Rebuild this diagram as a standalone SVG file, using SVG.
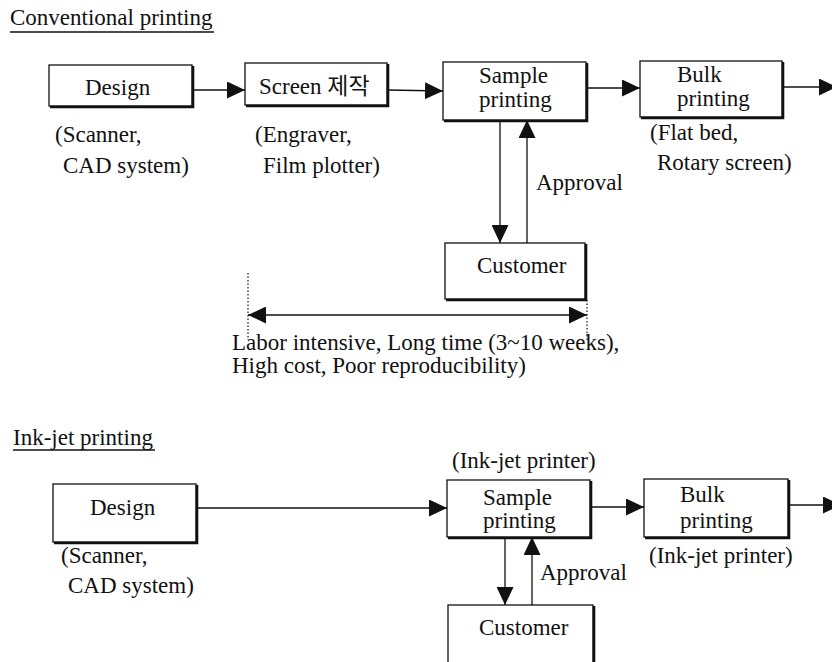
<svg xmlns="http://www.w3.org/2000/svg" width="832" height="662" viewBox="0 0 832 662">
<style>
text{font-family:"Liberation Serif","Noto Sans CJK KR",serif;font-size:23px;fill:#111}
.box{fill:#fff;stroke:#111;stroke-width:1.3}
.sh{fill:none;stroke:#111;stroke-width:2.6}
.ln{fill:none;stroke:#111;stroke-width:1.3}
.dot{fill:none;stroke:#111;stroke-width:1.2;stroke-dasharray:1.5 2}
.ul{stroke:#111;stroke-width:1.3}
</style>
<defs>
<marker id="ah" markerUnits="userSpaceOnUse" markerWidth="18" markerHeight="17" refX="18" refY="8.5" orient="auto-start-reverse">
<path d="M0,0 L18,8.5 L0,17 z" fill="#111"/>
</marker>
</defs>
<rect width="832" height="662" fill="#fff"/>

<g id="title-conventional">
<text x="10" y="25">Conventional printing</text>
<line class="ul" x1="10" y1="32" x2="214" y2="32"/>
</g>

<g id="connectors">
<line class="ln" x1="193" y1="90" x2="245" y2="90" marker-end="url(#ah)"/>
<line class="ln" x1="387" y1="90" x2="443" y2="91" marker-end="url(#ah)"/>
<line class="ln" x1="586" y1="88" x2="640" y2="88" marker-end="url(#ah)"/>
<line class="ln" x1="783" y1="87" x2="837" y2="87" marker-end="url(#ah)"/>
<line class="ln" x1="500" y1="120" x2="500" y2="243" marker-end="url(#ah)"/>
<line class="ln" x1="527" y1="243" x2="527" y2="120" marker-end="url(#ah)"/>
<line class="ln" x1="248" y1="315" x2="587" y2="315" marker-start="url(#ah)" marker-end="url(#ah)"/>
<line class="dot" x1="248" y1="273" x2="248" y2="340"/>
<line class="dot" x1="587" y1="300" x2="587" y2="340"/>
<line class="ln" x1="196" y1="508" x2="447" y2="508" marker-end="url(#ah)"/>
<line class="ln" x1="590" y1="507" x2="644" y2="507" marker-end="url(#ah)"/>
<line class="ln" x1="788" y1="505" x2="841" y2="505" marker-end="url(#ah)"/>
<line class="ln" x1="505" y1="537" x2="505" y2="605" marker-end="url(#ah)"/>
<line class="ln" x1="532" y1="605" x2="532" y2="537" marker-end="url(#ah)"/>
</g>

<g id="design1">
<rect class="box" x="49" y="65" width="143" height="41"/>
<path class="sh" d="M193,66 V107 H50"/>
<text x="85" y="95">Design</text>
<text x="55" y="142">(Scanner,</text>
<text x="63" y="173">CAD system)</text>
</g>

<g id="screen">
<rect class="box" x="245" y="63" width="142" height="42"/>
<path class="sh" d="M388,64 V106 H246"/>
<text x="259" y="94">Screen 제작</text>
<text x="255" y="142">(Engraver,</text>
<text x="263" y="173">Film plotter)</text>
</g>

<g id="sample1">
<rect class="box" x="443" y="62" width="143" height="58"/>
<path class="sh" d="M587,63 V121 H444"/>
<text x="479" y="83">Sample</text>
<text x="479" y="107">printing</text>
</g>

<g id="bulk1">
<rect class="box" x="640" y="61" width="142" height="56"/>
<path class="sh" d="M783,62 V118 H641"/>
<text x="677" y="82">Bulk</text>
<text x="677" y="106">printing</text>
<text x="650" y="140">(Flat bed,</text>
<text x="657" y="170">Rotary screen)</text>
</g>

<g id="customer1">
<rect class="box" x="445" y="243" width="140" height="56"/>
<path class="sh" d="M586,244 V300 H446"/>
<text x="477" y="273">Customer</text>
</g>

<g id="labels1">
<text x="536" y="190">Approval</text>
<text x="232" y="350">Labor intensive, Long time (3~10 weeks),</text>
<text x="232" y="373">High cost, Poor reproducibility)</text>
</g>

<g id="title-inkjet">
<text x="13" y="445">Ink-jet printing</text>
<line class="ul" x1="13" y1="450" x2="155" y2="450"/>
</g>

<g id="design2">
<rect class="box" x="53" y="484" width="143" height="58"/>
<path class="sh" d="M197,485 V543 H54"/>
<text x="90" y="515">Design</text>
<text x="61" y="563">(Scanner,</text>
<text x="68" y="593">CAD system)</text>
</g>

<g id="sample2">
<text x="452" y="468">(Ink-jet printer)</text>
<rect class="box" x="447" y="480" width="143" height="57"/>
<path class="sh" d="M591,481 V538 H448"/>
<text x="483" y="505">Sample</text>
<text x="483" y="528">printing</text>
</g>

<g id="bulk2">
<rect class="box" x="644" y="479" width="144" height="58"/>
<path class="sh" d="M789,480 V538 H645"/>
<text x="680" y="502">Bulk</text>
<text x="680" y="528">printing</text>
<text x="649" y="563">(Ink-jet printer)</text>
</g>

<g id="customer2">
<rect class="box" x="448" y="605" width="145" height="70"/>
<path class="sh" d="M594,606 V676"/>
<text x="479" y="635">Customer</text>
</g>

<g id="labels2">
<text x="540" y="580">Approval</text>
</g>
</svg>
